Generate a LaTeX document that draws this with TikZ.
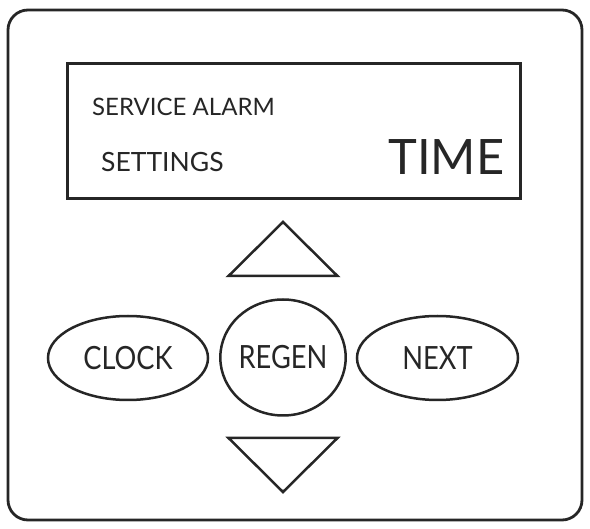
\documentclass[tikz,border=0pt]{standalone}
\usepackage{fontspec}
\setmainfont{Lato}
\newfontfamily\btnfont[FakeStretch=0.85]{Lato}
\usetikzlibrary{shapes.geometric}
\begin{document}
\begin{tikzpicture}[x=1pt,y=-1pt,
  frame/.style={line width=2.8pt, draw=black!85},
  btn/.style={line width=2.5pt, draw=black!85},
  lbl/.style={inner sep=0pt, font=\btnfont\fontsize{32}{32}\selectfont, text=black!85},
  small/.style={inner sep=0pt, anchor=base west, text=black!85}]
\useasboundingbox (0,0) rectangle (590,529);
% outer housing
\draw[frame, rounded corners=20pt] (8,10) rectangle (582,520);
% display
\node[frame, rectangle, minimum width=453pt, minimum height=135pt, inner sep=0pt, anchor=north west] (display) at (66,62) {};
\node[small, font=\fontsize{24}{24}\selectfont] (service) at (92,116) {SERVICE ALARM};
\node[small, font=\fontsize{26.5}{26.5}\selectfont] (settings) at (101,172) {SETTINGS};
\node[small, font=\fontsize{48.8}{48.8}\selectfont] (time) at (388,175) {TIME};
% buttons
\draw[btn, line join=miter] (228.5,276) -- (283,222) -- (337.5,276) -- cycle;
\draw[btn, line join=miter] (228.5,438) -- (283,492) -- (337.5,438) -- cycle;
\node[btn, lbl, ellipse, minimum width=160pt, minimum height=84pt] (clock) at (128,358) {CLOCK};
\node[btn, lbl, ellipse, minimum width=110pt, minimum height=116pt] (regen) at (283,357.5) {REGEN};
\node[btn, lbl, ellipse, minimum width=161pt, minimum height=84pt] (next) at (437.5,358) {NEXT};
\end{tikzpicture}
\end{document}
